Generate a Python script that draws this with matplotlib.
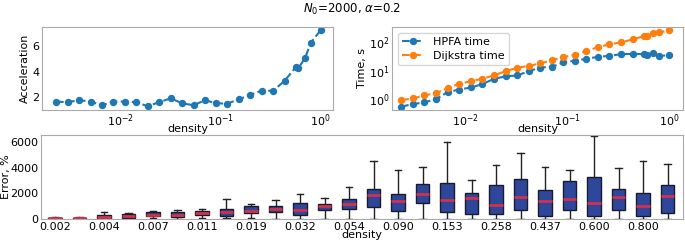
import numpy as np
import matplotlib
matplotlib.use('Agg')
from matplotlib import pyplot as plt

#Densities used in the experiment
density = [0.0023, 0.0030, 0.0039, 0.0051, 0.0066, 0.0086, 0.0112, 0.0145,
           0.0189, 0.0246, 0.0320, 0.0416, 0.0541, 0.0703, 0.0904, 0.1175,
           0.153, 0.199, 0.258, 0.336, 0.437, 0.568, 0.600, 0.700, 0.800, 1.000]

#Acceleration (Dijkstra time / HPFA time)
acceleration = [1.66, 1.61, 1.77, 1.66, 1.37, 1.66, 1.66, 1.61, 1.30, 1.61,
                1.92, 1.53, 1.37, 1.77, 1.53, 1.50, 1.84, 2.18, 2.52, 2.50,
                3.28, 4.38, 4.27, 5.08, 6.28, 7.25]

#Running times, s
hpfa_time = [0.56, 0.69, 0.79, 1.03, 1.8, 2.2, 2.6, 3.4, 5.2, 6.3, 6.8, 9.6, 12.8,
             13.5, 19.2, 22, 25.7, 30, 32.5, 37, 38, 37, 36, 40, 32.5, 34]
dijkstra_time = [0.95, 1.08, 1.38, 1.66, 2.47, 3.5, 4.3, 5.2, 6.8, 9.6, 12.5, 14.7,
                 17.7, 23, 29.4, 34.6, 47.5, 65, 81, 95, 120, 157, 162, 194, 210, 250]

#Error box statistics, %
err_low = [0, 0, 0, 0, 50, 0, 50, 50, 80, 30, 30, 0, 30, 30, 30, 30, 30, 20, 30,
           30, 30, 30, 30, 30, 30, 30]
err_q1 = [10, 30, 30, 80, 210, 180, 290, 260, 470, 520, 280, 700, 810, 900, 660,
          1270, 570, 370, 420, 690, 230, 720, 230, 670, 230, 440]
err_med = [40, 70, 150, 200, 300, 300, 440, 570, 660, 780, 730, 990, 1170, 1900,
           1400, 1960, 1460, 1620, 1080, 1710, 1400, 1560, 1290, 1740, 1010, 1820]
err_q3 = [70, 110, 310, 370, 520, 520, 600, 810, 990, 1020, 1290, 1200, 1560,
          2380, 1960, 2730, 2830, 2020, 2650, 3110, 2290, 2940, 3270, 2310, 2050, 2670]
err_high = [120, 150, 520, 500, 630, 680, 810, 1540, 1200, 1510, 1930, 1620, 2470,
            4560, 3810, 4100, 6000, 3050, 4200, 5180, 4100, 3830, 6490, 4000, 4560, 4330]

tick_labels = ['%.3f' % d for d in density]

plt.rcParams['font.size'] = 8

W, H = 685.0, 246.0
fig = plt.figure(figsize=(6.85, 2.46), dpi=100)
ax1 = fig.add_axes([42/W, 1-110/H, 291/W, 83/H])
ax2 = fig.add_axes([392/W, 1-110/H, 291/W, 83/H])
ax3 = fig.add_axes([41/W, 1-219/H, 642/W, 84/H])
ax3.set_facecolor('none')

fig.text(352/W, 1-9/H, r'$N_0$=2000, $\alpha$=0.2', ha='center', va='center', fontsize=8.5)

for ax in (ax1, ax2, ax3):
    for s in ax.spines.values():
        s.set_color('#aaaaaa')
    ax.tick_params(which='both', length=0, pad=2)

#Acceleration
ax1.plot(density, acceleration, 'o--', color='#1f77b4', markersize=4.3)
ax1.set_xscale('log')
ax1.set_yticks([2, 4, 6])
ax1.set_xlabel('density', va='top')
ax1.set_ylabel('Acceleration')
ax1.xaxis.set_label_coords(0.5, -0.165)
ax1.yaxis.set_label_coords(-0.04, 0.5)
ax1.set_xlim(0.00167, 1.33)
ax1.set_ylim(1.0, 7.51)

#Running times
ax2.plot(density, hpfa_time, 'o--', color='#1f77b4', markersize=4.3, label='HPFA time')
ax2.plot(density, dijkstra_time, 'o--', color='#ff7f0e', markersize=4.3, label='Dijkstra time')
ax2.set_xscale('log')
ax2.set_yscale('log')
ax2.set_xlabel('density', va='top')
ax2.set_ylabel('Time, s')
ax2.xaxis.set_label_coords(0.5, -0.165)
ax2.yaxis.set_label_coords(-0.085, 0.5)
ax2.set_xlim(0.00187, 1.37)
ax2.set_ylim(0.43, 325)
ax2.legend(loc='upper left', fontsize=8, handlelength=2, borderpad=0.4, labelspacing=0.35)

#Error boxes
stats = []
for i in range(len(density)):
    stats.append({'whislo': err_low[i], 'q1': err_q1[i], 'med': err_med[i],
                  'q3': err_q3[i], 'whishi': err_high[i], 'fliers': []})
pos = np.arange(1, len(density) + 1)
ax3.bxp(stats, positions=pos, widths=0.55, patch_artist=True,
        boxprops=dict(facecolor='#2f479a', edgecolor='#1a1a2e', linewidth=1),
        medianprops=dict(color='#d0314b', linewidth=2),
        whiskerprops=dict(color='#222222', linewidth=1),
        capprops=dict(color='#222222', linewidth=1))
ax3.set_xticks(pos[::2])
ax3.set_xticklabels(tick_labels[::2])
ax3.set_xlim(0.43, len(density) + 0.63)
ax3.set_ylim(0, 6570)
ax3.set_yticks([0, 2000, 4000, 6000])
ax3.set_xlabel('density', va='top')
ax3.set_ylabel('Error, %')
ax3.xaxis.set_label_coords(0.5, -0.135)
ax3.yaxis.set_label_coords(-0.047, 0.5)

fig.savefig('out.png', dpi=100)
